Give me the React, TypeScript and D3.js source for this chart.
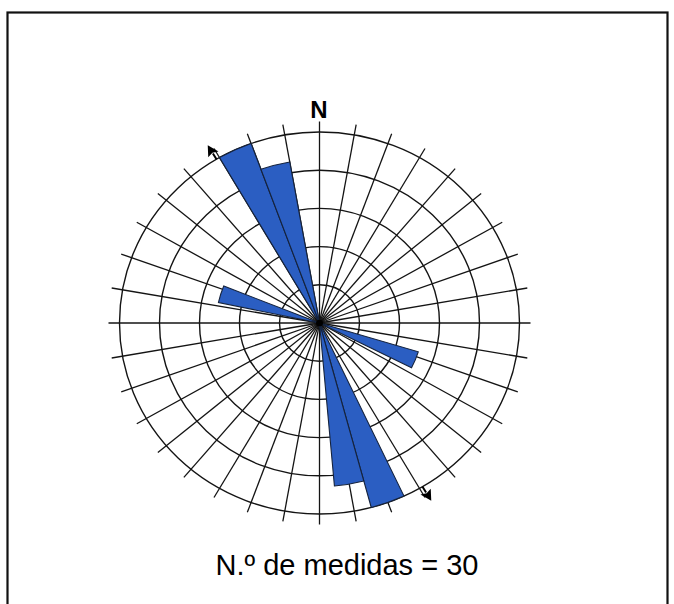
import React from "react";
import * as d3 from "d3";

// Rose diagram data (azimuth of petal start, degrees clockwise from N)
const petalStart = [330, 340, 282, 155, 165, 107];
const petalCounts = [15, 11, 4, 15, 11, 4];
const binWidth = 10;
const maxCount = 15;
const ringLevels = [1, 2, 3, 4, 5];
const spokeAngles = d3.range(0, 360, 10);
const meanDirection = 329;
const nMeasures = 30;
const northLabel = "N";

const W = 674;
const H = 604;
const cx = 319.5;
const cy = 323;
const R = 200;
const yScale = 0.955;

export default function App() {
  const rScale = d3.scaleSqrt().domain([0, maxCount]).range([0, R]);
  const ringScale = d3.scaleLinear().domain([0, ringLevels.length]).range([0, R]);
  const rad = (deg: number) => (deg * Math.PI) / 180;
  const arcGen = d3.arc<any>();
  const spokeLen = R + 11;

  const petals = petalStart.map((s, i) => ({
    d: arcGen({
      innerRadius: 0,
      outerRadius: rScale(petalCounts[i]),
      startAngle: rad(s),
      endAngle: rad(s + binWidth),
    }) as string,
  }));

  const arrowDirs = [meanDirection, (meanDirection + 180) % 360];

  return (
    <svg
      width={W}
      height={H}
      style={{ position: "absolute", left: 0, top: 0, background: "#fff" }}
    >
      <rect x={0} y={0} width={W} height={H} fill="#fff" />
      <rect
        x={7.5}
        y={12.5}
        width={660}
        height={640}
        fill="none"
        stroke="#111"
        strokeWidth={2.2}
      />
      <g transform={`translate(${cx},${cy}) scale(1,${yScale})`}>
        {ringLevels.map((k) => (
          <circle
            key={k}
            r={ringScale(k)}
            fill="none"
            stroke="#141414"
            strokeWidth={1.4}
            vectorEffect="non-scaling-stroke"
          />
        ))}
        {spokeAngles.map((a) => (
          <line
            key={a}
            x1={0}
            y1={0}
            x2={spokeLen * Math.sin(rad(a))}
            y2={-spokeLen * Math.cos(rad(a))}
            stroke="#141414"
            strokeWidth={1.3}
            vectorEffect="non-scaling-stroke"
          />
        ))}
        {petals.map((p, i) => (
          <path
            key={i}
            d={p.d}
            fill="#2b5ec2"
            stroke="#15233d"
            strokeWidth={1.1}
            vectorEffect="non-scaling-stroke"
          />
        ))}
        {arrowDirs.map((a) => (
          <g key={a} transform={`rotate(${a})`}>
            <line
              x1={0}
              y1={-R}
              x2={0}
              y2={-R - 7}
              stroke="#000"
              strokeWidth={2}
              vectorEffect="non-scaling-stroke"
            />
            <path d={`M0,${-R - 17} L-6,${-R - 6} L0,${-R - 8} L6,${-R - 6} Z`} fill="#000" />
          </g>
        ))}
        <circle r={3.5} fill="#000" />
      </g>
      <text
        x={319}
        y={118}
        textAnchor="middle"
        fontFamily="Liberation Sans, Arial, sans-serif"
        fontWeight="bold"
        fontSize={24}
        fill="#000"
      >
        {northLabel}
      </text>
      <text
        x={347}
        y={575}
        textAnchor="middle"
        fontFamily="Liberation Sans, Arial, sans-serif"
        fontSize={29}
        fill="#000"
      >
        {`N.º de medidas = ${nMeasures}`}
      </text>
    </svg>
  );
}
